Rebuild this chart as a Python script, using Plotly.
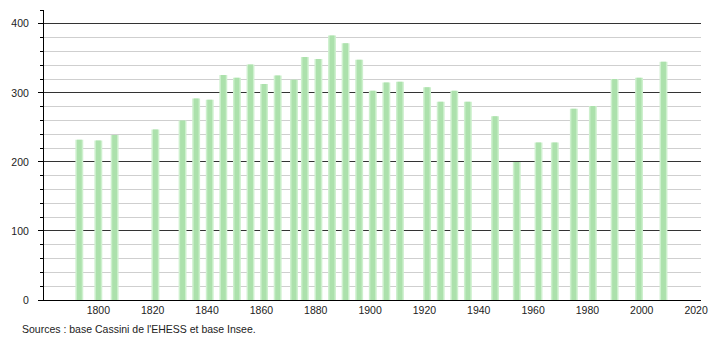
import plotly.graph_objects as go

years = [1793, 1800, 1806, 1821, 1831, 1836, 1841, 1846, 1851, 1856, 1861, 1866,
         1872, 1876, 1881, 1886, 1891, 1896, 1901, 1906, 1911, 1921, 1926, 1931,
         1936, 1946, 1954, 1962, 1968, 1975, 1982, 1990, 1999, 2008]
population = [232, 231, 239, 247, 260, 292, 290, 326, 322, 341, 313, 325,
              319, 352, 349, 383, 372, 348, 303, 315, 316, 308, 287, 303,
              287, 266, 200, 228, 228, 277, 281, 320, 322, 345]
x_ticks = [1800, 1820, 1840, 1860, 1880, 1900, 1920, 1940, 1960, 1980, 2000, 2020]
y_ticks = [0, 100, 200, 300, 400]
source_text = "Sources : base Cassini de l'EHESS et base Insee."

font = "Liberation Sans, Arial, sans-serif"

fig = go.Figure()
fig.add_trace(go.Bar(x=years, y=population, width=2.9,
                     marker=dict(color="rgba(205,240,205,1)", line=dict(width=0)),
                     hoverinfo="skip"))
fig.add_trace(go.Bar(x=years, y=population, width=1.8,
                     marker=dict(color="#ace1ac", line=dict(width=0)),
                     hovertemplate="%{x}: %{y}<extra></extra>"))

fig.update_layout(
    width=710, height=340,
    margin=dict(l=44, r=9, t=10, b=40, autoexpand=False),
    paper_bgcolor="white", plot_bgcolor="white",
    barmode="overlay", showlegend=False,
    font=dict(family=font, size=10.5, color="#222"),
    xaxis=dict(range=[1780, 2021.8], tickvals=x_ticks, showgrid=False, zeroline=False,
               showline=True, linecolor="black", linewidth=1, ticks="",
               automargin=False, tickfont=dict(size=10.5)),
    yaxis=dict(range=[0, 420], tickvals=y_ticks, showgrid=True, gridcolor="#333",
               gridwidth=1, zeroline=False, showline=True, linecolor="black",
               linewidth=1, ticks="outside", ticklen=5, tickcolor="black",
               automargin=False, ticklabelstandoff=7, tickfont=dict(size=10.5),
               minor=dict(dtick=20, showgrid=True, gridcolor="#cfcfcf", gridwidth=1,
                          ticks="outside", ticklen=3, tickcolor="black")),
    annotations=[dict(text=source_text, xref="paper", yref="paper", x=-0.036, y=-0.072,
                      xanchor="left", yanchor="top", showarrow=False,
                      font=dict(size=10.5, color="#222"))],
)

fig.write_html("out.html")
